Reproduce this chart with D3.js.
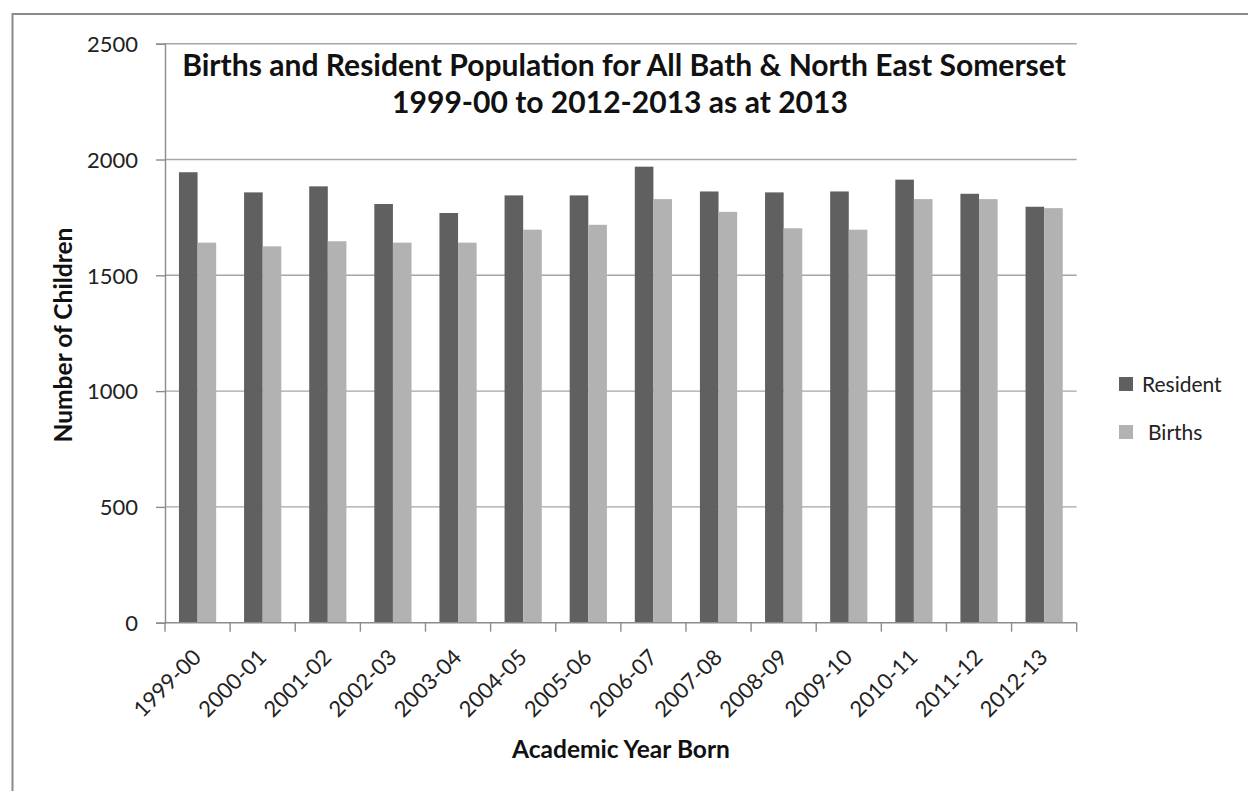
<!DOCTYPE html>
<html>
<head>
<meta charset="utf-8">
<script src="https://cdn.jsdelivr.net/npm/d3@7"></script>
<style>
  html, body { margin: 0; padding: 0; background: #fff; }
  svg { display: block; font-family: Lato, "Open Sans", sans-serif; }
</style>
</head>
<body>
<svg id="chart" width="1248" height="791"></svg>
<script>
// Chart data
const years = ['1999-00', '2000-01', '2001-02', '2002-03', '2003-04', '2004-05', '2005-06',
  '2006-07', '2007-08', '2008-09', '2009-10', '2010-11', '2011-12', '2012-13'];
const resident = [1945, 1858, 1884, 1808, 1769, 1845, 1845, 1969, 1862, 1858, 1862, 1913, 1852, 1796];
const births = [1641, 1625, 1647, 1641, 1641, 1697, 1718, 1829, 1774, 1703, 1697, 1829, 1829, 1790];
const seriesNames = ['Resident', 'Births'];
const yTicks = [0, 500, 1000, 1500, 2000, 2500];
const titleLines = ['Births and Resident Population for All Bath & North East Somerset',
  '1999-00 to 2012-2013 as at 2013'];

const colors = { Resident: '#606060', Births: '#b2b2b2' };

const svg = d3.select('#chart');

// Shrink/grow a text's font-size so it spans the target width
function fitText(sel, target) {
  const node = sel.node();
  const fs = parseFloat(sel.attr('font-size'));
  const w = node.getComputedTextLength();
  sel.attr('font-size', (fs * target / w).toFixed(2));
}

// Outer frame (right/bottom edges run off the page)
svg.append('rect')
  .attr('x', 12.5).attr('y', 14)
  .attr('width', 1260).attr('height', 800)
  .attr('fill', 'none')
  .attr('stroke', '#8a8a8a')
  .attr('stroke-width', 2);

const plot = { left: 165, right: 1076.7, top: 43.7, bottom: 622.7 };

const x0 = d3.scaleBand()
  .domain(years)
  .range([plot.left, plot.right])
  .paddingInner(0).paddingOuter(0);

const x1 = d3.scaleBand()
  .domain(seriesNames)
  .range([0, x0.bandwidth()])
  .paddingInner(0).paddingOuter(0.75);

const y = d3.scaleLinear()
  .domain([0, 2500])
  .range([plot.bottom, plot.top]);

// Gridlines
svg.append('g')
  .selectAll('line')
  .data(yTicks.filter(d => d > 0))
  .enter()
  .append('line')
  .attr('x1', plot.left).attr('x2', plot.right)
  .attr('y1', d => y(d)).attr('y2', d => y(d))
  .attr('stroke', '#a6a6a6')
  .attr('stroke-width', 1.4);

// Bars
const rows = years.map((yr, i) => ({ year: yr, Resident: resident[i], Births: births[i] }));

svg.append('g')
  .selectAll('g')
  .data(rows)
  .enter()
  .append('g')
  .attr('transform', d => `translate(${x0(d.year)},0)`)
  .selectAll('rect')
  .data(d => seriesNames.map(k => ({ key: k, value: d[k] })))
  .enter()
  .append('rect')
  .attr('x', d => x1(d.key))
  .attr('width', x1.bandwidth())
  .attr('y', d => y(d.value))
  .attr('height', d => y(0) - y(d.value))
  .attr('fill', d => colors[d.key]);

// Y axis
const yAxis = svg.append('g')
  .attr('transform', `translate(${plot.left},0)`)
  .call(d3.axisLeft(y).tickValues(yTicks).tickFormat(d3.format('d')).tickSize(9).tickPadding(18));
yAxis.select('.domain').attr('stroke', '#8c8c8c').attr('stroke-width', 1.4);
yAxis.selectAll('.tick line').attr('stroke', '#8c8c8c').attr('stroke-width', 1.4);
yAxis.selectAll('.tick text')
  .attr('font-family', 'Lato, sans-serif')
  .attr('font-size', 22)
  .attr('fill', '#222');
fitText(yAxis.select('.tick:last-of-type text'), 51);
const tickFs = yAxis.select('.tick:last-of-type text').attr('font-size');
yAxis.selectAll('.tick text').attr('font-size', tickFs).attr('dy', '0.35em');

// X axis: line + boundary ticks + rotated labels
const xAxis = svg.append('g')
  .attr('transform', `translate(0,${plot.bottom})`)
  .call(d3.axisBottom(x0).tickSize(0).tickPadding(0));
xAxis.select('.domain').remove();
xAxis.append('line')
  .attr('x1', plot.left).attr('x2', plot.right)
  .attr('stroke', '#8c8c8c').attr('stroke-width', 1.4);
xAxis.selectAll('.boundary')
  .data(years.concat(['end']))
  .enter()
  .append('line')
  .attr('class', 'boundary')
  .attr('x1', (d, i) => i < years.length ? x0(d) : plot.right)
  .attr('x2', (d, i) => i < years.length ? x0(d) : plot.right)
  .attr('y1', 0).attr('y2', 9)
  .attr('stroke', '#8c8c8c').attr('stroke-width', 1.4);
xAxis.selectAll('.tick text')
  .attr('font-family', 'Lato, sans-serif')
  .attr('font-size', tickFs)
  .attr('fill', '#222')
  .attr('text-anchor', 'end')
  .attr('dy', 0)
  .attr('y', 0)
  .attr('transform', 'translate(5,36) rotate(-45)');

// Title
const title = svg.append('g').attr('font-weight', 'bold').attr('fill', '#111');
const t1 = title.append('text')
  .attr('x', 624).attr('y', 76)
  .attr('text-anchor', 'middle')
  .attr('font-size', 26)
  .text(titleLines[0]);
fitText(t1, 884);
const t2 = title.append('text')
  .attr('x', 620).attr('y', 112.5)
  .attr('text-anchor', 'middle')
  .attr('font-size', t1.attr('font-size'))
  .text(titleLines[1]);

// Axis titles
const xt = svg.append('text')
  .attr('x', 621).attr('y', 758)
  .attr('text-anchor', 'middle')
  .attr('font-weight', 'bold')
  .attr('font-size', 20)
  .attr('fill', '#111')
  .text('Academic Year Born');
fitText(xt, 218);

const yt = svg.append('text')
  .attr('transform', 'translate(71.5,335) rotate(-90)')
  .attr('text-anchor', 'middle')
  .attr('font-weight', 'bold')
  .attr('font-size', 20)
  .attr('fill', '#111')
  .text('Number of Children');
fitText(yt, 215);

// Legend
const legend = svg.append('g')
  .selectAll('g')
  .data(seriesNames)
  .enter()
  .append('g')
  .attr('transform', (d, i) => `translate(1119,${377 + i * 48})`);
legend.append('rect')
  .attr('width', 14).attr('height', 14)
  .attr('fill', d => colors[d]);
legend.append('text')
  .attr('x', d => d === 'Births' ? 29 : 23)
  .attr('y', 15)
  .attr('font-size', 21)
  .attr('fill', '#222')
  .text(d => d);
</script>
</body>
</html>
